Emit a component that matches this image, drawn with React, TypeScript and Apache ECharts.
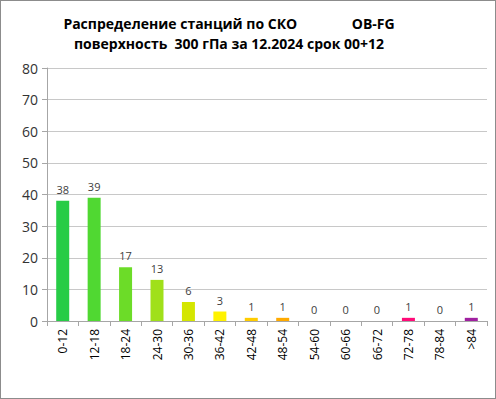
import React, { useEffect, useRef } from "react";
import * as echarts from "echarts";

const categories = ["0-12", "12-18", "18-24", "24-30", "30-36", "36-42", "42-48", "48-54", "54-60", "60-66", "66-72", "72-78", "78-84", ">84"];
const counts = [38, 39, 17, 13, 6, 3, 1, 1, 0, 0, 0, 1, 0, 1];
const barColors = ["#27cc46", "#50d832", "#6cdc28", "#a0e01a", "#d4e600", "#fff200", "#ffcc00", "#ffaa00", "#ff8800", "#ff6600", "#ff3344", "#ff0a78", "#cc1090", "#a020a0"];
const titleLine1 = "Распределение станций по СКО               OB-FG";
const titleLine2 = "поверхность  300 гПа за 12.2024 срок 00+12";

export default function App() {
  const ref = useRef<HTMLDivElement>(null);
  useEffect(() => {
    if (!ref.current) return;
    const chart = echarts.init(ref.current, null, { renderer: "svg" });
    const font = "'Open Sans', 'Liberation Sans', sans-serif";
    chart.setOption({
      animation: false,
      backgroundColor: "#ffffff",
      graphic: [
        { type: "text", x: 228, y: 15, style: { text: titleLine1, font: `bold 14px ${font}`, fill: "#000", textAlign: "center", textVerticalAlign: "top" } },
        { type: "text", x: 228, y: 35, style: { text: titleLine2, font: `bold 14px ${font}`, fill: "#000", textAlign: "center", textVerticalAlign: "top" } },
      ],
      grid: { left: 46, right: 8, top: 67, bottom: 77, containLabel: false },
      xAxis: {
        type: "category",
        data: categories,
        axisLine: { show: true, lineStyle: { color: "#a6a6a6" } },
        axisTick: { show: true, alignWithLabel: false, length: 5, lineStyle: { color: "#a6a6a6" } },
        axisLabel: { rotate: 90, interval: 0, fontSize: 12, color: "#000", fontFamily: font, margin: 8 },
      },
      yAxis: {
        type: "value",
        min: 0,
        max: 80,
        interval: 10,
        axisLine: { show: true, lineStyle: { color: "#a6a6a6" } },
        axisTick: { show: true, length: 5, lineStyle: { color: "#a6a6a6" } },
        splitLine: { show: true, lineStyle: { color: "#c8c8c8", width: 1 } },
        axisLabel: { fontSize: 14, color: "#333", fontFamily: font, margin: 9 },
      },
      series: [
        {
          type: "bar",
          data: counts.map((v, i) => ({ value: v, itemStyle: { color: barColors[i] } })),
          barWidth: 13,
          label: { show: true, position: "top", fontSize: 11, color: "#404040", fontFamily: font, distance: 6 },
        },
      ],
    });
    return () => chart.dispose();
  }, []);
  return (
    <div
      ref={ref}
      style={{ position: "absolute", left: 0, top: 0, width: 496, height: 399, border: "1px solid #8c8c8c", boxSizing: "border-box" }}
    />
  );
}
